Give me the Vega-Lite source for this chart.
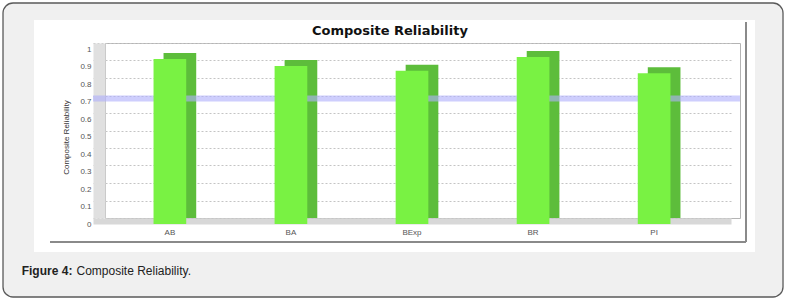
{
  "$schema": "https://vega.github.io/schema/vega-lite/v6.json",
  "width": 635,
  "height": 175,
  "autosize": {"type": "none"},
  "padding": {"left": 105, "top": 43, "right": 49, "bottom": 88},
  "background": "#ffffff",
  "config": {
    "view": {"stroke": "#b4b4b4", "strokeWidth": 1},
    "font": "Liberation Sans"
  },
  "resolve": {"axis": {"x": "independent", "y": "independent"}},
  "datasets": {
    "reliability": [
      {"construct": "AB", "composite_reliability": 0.943},
      {"construct": "BA", "composite_reliability": 0.903},
      {"construct": "BExp", "composite_reliability": 0.876},
      {"construct": "BR", "composite_reliability": 0.954},
      {"construct": "PI", "composite_reliability": 0.862}
    ],
    "frame": [{}]
  },
  "layer": [
    {
      "data": {"name": "reliability"},
      "mark": {"type": "bar", "color": "#5dbd3b", "xOffset": 10},
      "encoding": {
        "x": {"field": "construct", "type": "nominal", "sort": ["AB", "BA", "BExp", "BR", "PI"], "axis": null},
        "y": {"field": "composite_reliability", "type": "quantitative", "axis": null}
      }
    },
    {
      "data": {"name": "frame"},
      "mark": {"type": "rect", "fill": "#b0b0fc", "fillOpacity": 0.62, "y2Offset": 6},
      "encoding": {
        "x": {"datum": "AB", "bandPosition": -1.852, "type": "nominal", "axis": null},
        "x2": {"datum": "PI", "bandPosition": 3.127},
        "y": {"datum": 0.7, "type": "quantitative", "axis": null},
        "y2": {"datum": 0.7}
      }
    },
    {
      "data": {"name": "reliability"},
      "mark": {"type": "bar", "color": "#79f243", "yOffset": 6, "y2Offset": 6},
      "encoding": {
        "x": {
          "field": "construct",
          "type": "nominal",
          "sort": ["AB", "BA", "BExp", "BR", "PI"],
          "scale": {"domain": ["AB", "BA", "BExp", "BR", "PI"], "range": [-12, 626], "paddingInner": 0.73, "paddingOuter": 0.5},
          "axis": {
            "title": null,
            "orient": "bottom",
            "offset": 3,
            "domain": true,
            "domainWidth": 6,
            "domainColor": "#d8d8d8",
            "ticks": false,
            "grid": false,
            "labelAngle": 0,
            "labelPadding": 7,
            "labelFontSize": 8,
            "labelColor": "#555555",
            "labelFont": "Liberation Sans"
          }
        },
        "y": {
          "field": "composite_reliability",
          "type": "quantitative",
          "scale": {"domain": [0, 1], "nice": false, "zero": true},
          "axis": {
            "title": "Composite Reliability",
            "orient": "left",
            "values": [0, 0.1, 0.2, 0.3, 0.4, 0.5, 0.6, 0.7, 0.8, 0.9, 1],
            "labelOverlap": false,
            "format": ".1~f",
            "offset": 6,
            "domain": true,
            "domainWidth": 12,
            "domainColor": "#e0e0e0",
            "ticks": false,
            "grid": true,
            "gridColor": "#c4c4c4",
            "gridDash": [2, 2],
            "gridWidth": 1,
            "labelOffset": 6,
            "labelPadding": 8,
            "labelFontSize": 8,
            "labelColor": "#555555",
            "labelFont": "Liberation Sans",
            "titleFont": "Liberation Sans",
            "titleFontSize": 8,
            "titleFontWeight": "normal",
            "titleColor": "#333333",
            "titlePadding": 9,
            "titleY": 94
          }
        }
      }
    },
    {
      "data": {"name": "frame"},
      "mark": {"type": "rect", "fill": "#f0f0f0", "cornerRadiusTopLeft": 10, "cornerRadiusTopRight": 10},
      "encoding": {
        "x": {"datum": "AB", "bandPosition": -4.605, "type": "nominal", "axis": null},
        "x2": {"datum": "PI", "bandPosition": 4.443},
        "y": {"datum": 1.2286, "type": "quantitative", "axis": null},
        "y2": {"datum": 1.1314}
      }
    },
    {
      "data": {"name": "frame"},
      "mark": {"type": "rect", "fill": "#f0f0f0", "cornerRadiusBottomLeft": 10, "cornerRadiusBottomRight": 10},
      "encoding": {
        "x": {"datum": "AB", "bandPosition": -4.605, "type": "nominal", "axis": null},
        "x2": {"datum": "PI", "bandPosition": 4.443},
        "y": {"datum": -0.1943, "type": "quantitative", "axis": null},
        "y2": {"datum": -0.4514}
      }
    },
    {
      "data": {"name": "frame"},
      "mark": {"type": "rect", "fill": "#f0f0f0"},
      "encoding": {
        "x": {"datum": "AB", "bandPosition": -4.605, "type": "nominal", "axis": null},
        "x2": {"datum": "AB", "bandPosition": -3.657},
        "y": {"datum": 1.1314, "type": "quantitative", "axis": null},
        "y2": {"datum": -0.1943}
      }
    },
    {
      "data": {"name": "frame"},
      "mark": {"type": "rect", "fill": "#f0f0f0"},
      "encoding": {
        "x": {"datum": "PI", "bandPosition": 3.586, "type": "nominal", "axis": null},
        "x2": {"datum": "PI", "bandPosition": 4.443},
        "y": {"datum": 1.1314, "type": "quantitative", "axis": null},
        "y2": {"datum": -0.1943}
      }
    },
    {
      "data": {"name": "frame"},
      "mark": {"type": "rect", "fill": "#ffffff", "fillOpacity": 0, "stroke": "#5a5a5a", "strokeWidth": 1.3, "cornerRadius": 10},
      "encoding": {
        "x": {"datum": "AB", "bandPosition": -4.605, "type": "nominal", "axis": null},
        "x2": {"datum": "PI", "bandPosition": 4.443},
        "y": {"datum": 1.2286, "type": "quantitative", "axis": null},
        "y2": {"datum": -0.4514}
      }
    },
    {
      "data": {"name": "frame"},
      "mark": {"type": "rule", "stroke": "#8a8a8a", "strokeWidth": 2},
      "encoding": {
        "x": {"datum": "PI", "bandPosition": 3.311, "type": "nominal", "axis": null},
        "y": {"datum": 1.12, "type": "quantitative", "axis": null},
        "y2": {"datum": -0.1371}
      }
    },
    {
      "data": {"name": "frame"},
      "mark": {"type": "rule", "stroke": "#8a8a8a", "strokeWidth": 2},
      "encoding": {
        "x": {"datum": "AB", "bandPosition": -3.167, "type": "nominal", "axis": null},
        "x2": {"datum": "PI", "bandPosition": 3.311},
        "y": {"datum": -0.1371, "type": "quantitative", "axis": null}
      }
    },
    {
      "data": {"name": "frame"},
      "mark": {"type": "text", "text": "Composite Reliability", "font": "DejaVu Sans", "fontWeight": "bold", "fontSize": 13, "color": "#111111", "align": "center", "baseline": "middle"},
      "encoding": {
        "x": {"datum": "BExp", "bandPosition": -0.174, "type": "nominal", "axis": null},
        "y": {"datum": 1.0714, "type": "quantitative", "axis": null}
      }
    },
    {
      "data": {"name": "frame"},
      "mark": {"type": "text", "text": "Figure 4:", "font": "Liberation Sans", "fontWeight": "bold", "fontSize": 12, "color": "#222222", "align": "left", "baseline": "middle"},
      "encoding": {
        "x": {"datum": "AB", "bandPosition": -4.033, "type": "nominal", "axis": null},
        "y": {"datum": -0.3029, "type": "quantitative", "axis": null}
      }
    },
    {
      "data": {"name": "frame"},
      "mark": {"type": "text", "text": "Composite Reliability.", "font": "Liberation Sans", "fontWeight": "normal", "fontSize": 12, "color": "#222222", "align": "left", "baseline": "middle"},
      "encoding": {
        "x": {"datum": "AB", "bandPosition": -2.357, "type": "nominal", "axis": null},
        "y": {"datum": -0.3029, "type": "quantitative", "axis": null}
      }
    }
  ]
}
